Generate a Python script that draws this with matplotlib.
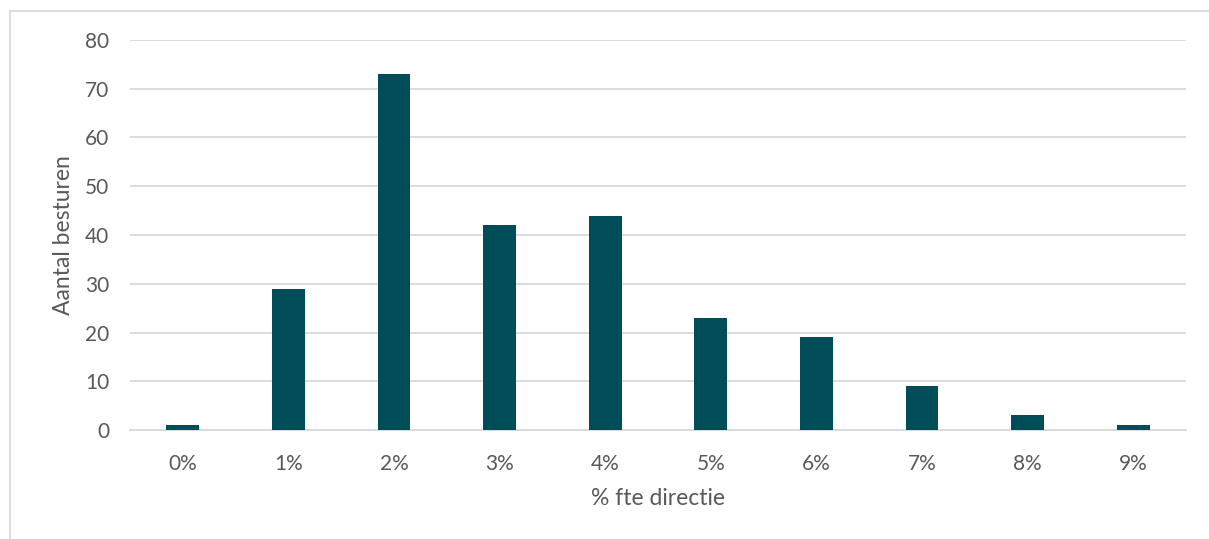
import matplotlib.pyplot as plt
import matplotlib.lines as mlines

# aantal besturen per percentage fte directie
categorieen = ["0%", "1%", "2%", "3%", "4%", "5%", "6%", "7%", "8%", "9%"]
aantal = [1, 29, 73, 42, 44, 23, 19, 9, 3, 1]
yticks = [0, 10, 20, 30, 40, 50, 60, 70, 80]

plt.rcParams['font.family'] = ['Lato', 'DejaVu Sans']
tekstkleur = "#595959"

fig = plt.figure(figsize=(12.09, 5.39), dpi=100)
ax = fig.add_axes([0.1075, 0.2022, 0.8735, 0.7236])

x = range(len(categorieen))
ax.bar(x, aantal, width=0.31, color="#004D5A", zorder=3)

ax.set_xlim(-0.5, len(categorieen) - 0.5)
ax.set_ylim(0, 80)
ax.set_yticks(yticks)
ax.set_xticks(list(x))
ax.set_xticklabels(categorieen)
ax.grid(axis="y", color="#D9D9D9", linewidth=1.3, zorder=0)
for s in ["top", "right", "left"]:
    ax.spines[s].set_visible(False)
ax.spines["bottom"].set_color("#D9D9D9")
ax.spines["bottom"].set_linewidth(1.3)
ax.tick_params(length=0, labelsize=15, colors=tekstkleur)
ax.tick_params(axis="y", pad=15)
ax.tick_params(axis="x", pad=17)

ax.set_xlabel("% fte directie", fontsize=16.5, color=tekstkleur, labelpad=10)
ax.set_ylabel("Aantal besturen", fontsize=16.5, color=tekstkleur, labelpad=8)

# kader rond de grafiek
fig.add_artist(mlines.Line2D([10 / 1209, 1], [1 - 11 / 539, 1 - 11 / 539],
                             color="#D9D9D9", linewidth=1.3))
fig.add_artist(mlines.Line2D([10 / 1209, 10 / 1209], [0, 1 - 11 / 539],
                             color="#D9D9D9", linewidth=1.3))

fig.savefig("out.png", dpi=100)
